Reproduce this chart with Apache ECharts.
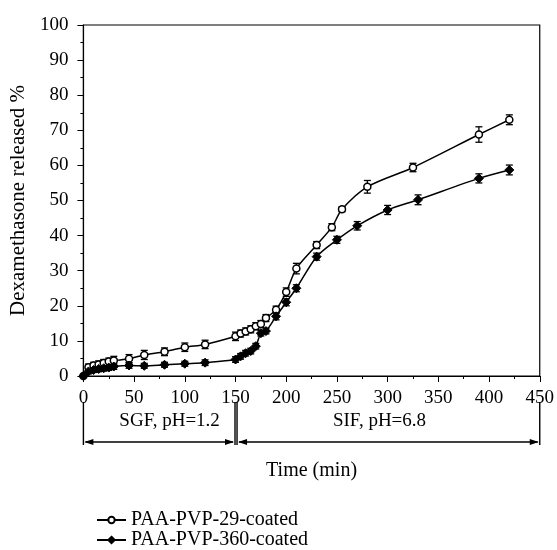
<!DOCTYPE html>
<html>
<head>
<meta charset="utf-8">
<script src="https://cdn.jsdelivr.net/npm/echarts@6/dist/echarts.min.js"></script>
<style>
html, body { margin: 0; padding: 0; background: #fff; }
#chart { width: 557px; height: 550px; }
</style>
</head>
<body>
<div id="chart"></div>
<script>
// release profile, PAA-PVP-29 (open circles)
var timeA = [0, 5, 10, 15, 20, 25, 30, 45, 60, 80, 100, 120, 150, 155, 160, 165, 170, 175, 180, 190, 200, 210, 230, 245, 255, 280, 325, 390, 420];
var relA = [0, 2.5, 3.0, 3.3, 3.7, 4.1, 4.4, 4.9, 6.0, 6.9, 8.2, 9.0, 11.3, 12.1, 12.7, 13.3, 14.2, 14.8, 16.5, 18.9, 23.9, 30.6, 37.3, 42.4, 47.5, 53.9, 59.4, 68.8, 73.0];
var errA = [0.3, 0.9, 0.9, 1.0, 1.0, 1.0, 1.2, 1.2, 1.3, 1.1, 1.2, 1.2, 1.2, 1.0, 1.0, 1.0, 1.0, 1.0, 1.0, 1.0, 1.2, 1.5, 1.0, 1.0, 0.7, 1.8, 1.2, 2.2, 1.4];
// release profile, PAA-PVP-360 (filled diamonds)
var timeB = [0, 5, 10, 15, 20, 25, 30, 45, 60, 80, 100, 120, 150, 155, 160, 165, 170, 175, 180, 190, 200, 210, 230, 250, 270, 300, 330, 390, 420];
var relB = [0, 1.3, 1.7, 2.0, 2.2, 2.4, 2.7, 3.0, 2.9, 3.2, 3.5, 3.8, 4.7, 5.6, 6.5, 7.1, 8.5, 12.2, 12.8, 17.0, 21.0, 25.0, 34.0, 38.8, 42.8, 47.3, 50.2, 56.3, 58.7];
var errB = [0.3, 0.7, 0.7, 0.8, 0.8, 0.8, 0.8, 0.8, 0.7, 0.7, 0.7, 0.8, 0.8, 0.8, 0.8, 0.8, 0.8, 0.8, 0.8, 1.0, 1.0, 1.0, 1.0, 1.0, 1.2, 1.3, 1.4, 1.3, 1.4];

var names = ["PAA-PVP-29-coated", "PAA-PVP-360-coated"];
var phases = [
    { label: "SGF, pH=1.2", from: 0, to: 149.5, textAt: 85 },
    { label: "SIF, pH=6.8", from: 151.5, to: 450, textAt: 292 }
];

var FONT = "Liberation Serif";

function pairs(t, v) {
    var out = [];
    for (var i = 0; i < t.length; ++i) out.push([t[i], v[i]]);
    return out;
}
function errRows(t, v, e) {
    var out = [];
    for (var i = 0; i < t.length; ++i) out.push([t[i], v[i] - e[i], v[i] + e[i]]);
    return out;
}
function renderErr(params, api) {
    var lo = api.coord([api.value(0), api.value(1)]);
    var hi = api.coord([api.value(0), api.value(2)]);
    var w = 3.5;
    var st = { stroke: '#000', lineWidth: 1.3 };
    return {
        type: 'group',
        children: [
            { type: 'line', shape: { x1: lo[0], y1: lo[1], x2: hi[0], y2: hi[1] }, style: st },
            { type: 'line', shape: { x1: lo[0] - w, y1: lo[1], x2: lo[0] + w, y2: lo[1] }, style: st },
            { type: 'line', shape: { x1: hi[0] - w, y1: hi[1], x2: hi[0] + w, y2: hi[1] }, style: st }
        ]
    };
}

var chart = echarts.init(document.getElementById('chart'));
var option = {
    animation: false,
    backgroundColor: '#fff',
    grid: {
        left: 83, right: 15, top: 25, bottom: 174,
        show: true, borderColor: '#000', borderWidth: 1.2, backgroundColor: 'transparent'
    },
    legend: {
        orient: 'vertical',
        left: 96, top: 510, padding: 0,
        itemWidth: 29, itemHeight: 8, itemGap: 0,
        textStyle: { fontFamily: FONT, fontSize: 20, color: '#000', lineHeight: 19 },
        data: names
    },
    xAxis: {
        type: 'value', min: 0, max: 450, interval: 50,
        name: 'Time (min)', nameLocation: 'middle', nameGap: 85,
        nameTextStyle: { fontFamily: FONT, fontSize: 20, color: '#000' },
        axisLine: { lineStyle: { color: '#000', width: 1.2 } },
        axisTick: { length: 6, lineStyle: { color: '#000' } },
        minorTick: { show: true, splitNumber: 2, length: 3, lineStyle: { color: '#000' } },
        axisLabel: { fontFamily: FONT, fontSize: 19, color: '#000', margin: 13 },
        splitLine: { show: false }
    },
    yAxis: {
        type: 'value', min: 0, max: 100, interval: 10,
        name: 'Dexamethasone released %', nameLocation: 'middle', nameGap: 48,
        nameTextStyle: { fontFamily: FONT, fontSize: 21, color: '#000' },
        axisLine: { lineStyle: { color: '#000', width: 1.2 } },
        axisTick: { length: 6, lineStyle: { color: '#000' } },
        minorTick: { show: true, splitNumber: 2, length: 3, lineStyle: { color: '#000' } },
        axisLabel: { fontFamily: FONT, fontSize: 19, color: '#000', margin: 15 },
        splitLine: { show: false }
    },
    series: [
        {
            name: names[0], type: 'line', smooth: 0.3,
            data: pairs(timeA, relA),
            symbol: 'circle', symbolSize: 7, z: 3,
            lineStyle: { color: '#000', width: 1.5 },
            itemStyle: { color: '#fff', borderColor: '#000', borderWidth: 1.5 }
        },
        {
            name: names[1], type: 'line', smooth: 0.3,
            data: pairs(timeB, relB),
            symbol: 'diamond', symbolSize: 9, z: 3,
            lineStyle: { color: '#000', width: 1.5 },
            itemStyle: { color: '#000', borderColor: '#000', borderWidth: 1 }
        },
        {
            type: 'custom', renderItem: renderErr, z: 2, silent: true,
            data: errRows(timeA, relA, errA)
        },
        {
            type: 'custom', renderItem: renderErr, z: 2, silent: true,
            data: errRows(timeB, relB, errB)
        }
    ]
};
chart.setOption(option);

// phase brackets under the time axis, placed with the axis scale
var barTop = 402, barBot = 445, arrowY = 442, textY = 421;
var g = [];
var st = { stroke: '#000', lineWidth: 1.4 };
phases.forEach(function (p) {
    var x1 = chart.convertToPixel({ gridIndex: 0 }, [p.from, 0])[0];
    var x2 = chart.convertToPixel({ gridIndex: 0 }, [p.to, 0])[0];
    var xt = chart.convertToPixel({ gridIndex: 0 }, [p.textAt, 0])[0];
    g.push({ type: 'line', shape: { x1: x1, y1: barTop, x2: x1, y2: barBot }, style: st });
    g.push({ type: 'line', shape: { x1: x2, y1: barTop, x2: x2, y2: barBot }, style: st });
    g.push({ type: 'line', shape: { x1: x1 + 2, y1: arrowY, x2: x2 - 2, y2: arrowY }, style: st });
    g.push({ type: 'polygon', shape: { points: [[x1 + 1, arrowY], [x1 + 10, arrowY - 3], [x1 + 10, arrowY + 3]] }, style: { fill: '#000' } });
    g.push({ type: 'polygon', shape: { points: [[x2 - 1, arrowY], [x2 - 10, arrowY - 3], [x2 - 10, arrowY + 3]] }, style: { fill: '#000' } });
    g.push({
        type: 'text', x: xt, y: textY,
        style: { text: p.label, font: '19px "Liberation Serif"', fill: '#000', textAlign: 'center', textVerticalAlign: 'middle' }
    });
});
chart.setOption({ graphic: g });
</script>
</body>
</html>
